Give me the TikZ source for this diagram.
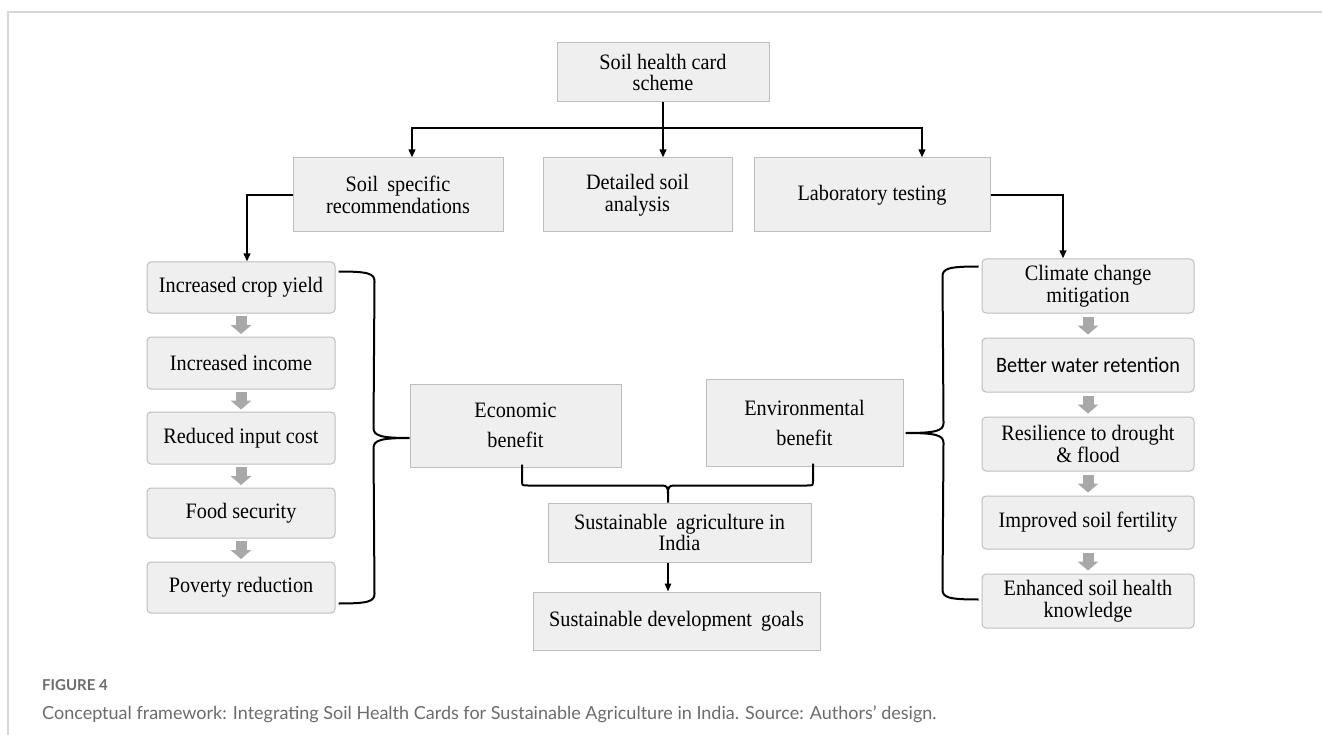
\documentclass[tikz,border=0pt]{standalone}
\usepackage{fontspec}
\setmainfont{Liberation Serif}[FakeStretch=0.92]
\newfontfamily\calibfont{Carlito}[FakeStretch=0.92]
\newfontfamily\capfont{Lato}
\usetikzlibrary{calc,arrows.meta}
\definecolor{boxfill}{RGB}{239,239,239}
\definecolor{boxborder}{RGB}{190,190,190}
\definecolor{agray}{RGB}{168,168,168}
\definecolor{capgray}{RGB}{108,108,108}
\definecolor{framegray}{RGB}{215,215,215}
\newcommand\bxfont{\fontsize{22}{21.5}\selectfont}
\newcommand\bxfontwide{\fontsize{22}{30}\selectfont}
\newcommand\mybox[7]{%
  \pgfmathsetmacro\mbw{#4-#2}\pgfmathsetmacro\mbh{#5-#3}%
  \pgfmathsetmacro\mbx{(#2+#4)/2}\pgfmathsetmacro\mby{(#3+#5)/2}%
  \node[#6, minimum width=\mbw pt, minimum height=\mbh pt] (#1) at (\mbx,\mby) {#7};}
\newcommand\garrow[2]{%
  \coordinate (gm) at ($(#1.south)!0.5!(#2.north)$);
  \fill[agray] ($(gm)+(-5.5,-9)$) rectangle ($(gm)+(5.5,0.5)$);
  \fill[agray] ($(gm)+(-10.5,0)$) -- ($(gm)+(10.5,0)$) -- ($(gm)+(0,9)$) -- cycle;}
\tikzset{
  sqbox/.style={draw=boxborder, fill=boxfill, line width=1pt, inner sep=0pt, align=center, font=\bxfont},
  rdbox/.style={sqbox, rounded corners=4pt},
  widebox/.style={sqbox, font=\bxfontwide},
  conn/.style={draw=black, line width=2pt},
  arr/.style={conn, -{Triangle[length=8pt,width=6.5pt]}},
}
\begin{document}
\begin{tikzpicture}[x=1pt,y=-1pt]
\useasboundingbox (0,0) rectangle (1322,735);
\fill[white] (0,0) rectangle (1322,735);
\draw[framegray, line width=2pt] (8,735) -- (8,12) -- (1322,12);

% top row
\mybox{top}{557}{43}{769}{102}{sqbox}{Soil health card\\scheme}
\mybox{ssr}{293}{158}{503}{232}{sqbox}{Soil\hspace{4pt} specific\\recommendations}
\mybox{det}{543}{158}{732}{232}{sqbox}{Detailed soil\\analysis}
\mybox{lab}{754}{158}{990}{232}{sqbox}{Laboratory testing}

% left column
\mybox{crop}{147}{262}{335}{313}{rdbox}{Increased crop yield}
\mybox{inc}{147}{337}{335}{389}{rdbox}{Increased income}
\mybox{red}{147}{412}{335}{464}{rdbox}{Reduced input cost}
\mybox{food}{147}{488}{335}{538}{rdbox}{Food security}
\mybox{pov}{147}{562}{335}{613}{rdbox}{Poverty reduction}

% right column
\mybox{clim}{982}{259}{1194}{313}{rdbox}{Climate change\\mitigation}
\mybox{water}{982}{338}{1194}{392}{rdbox}{\calibfont Better water retention}
\mybox{resil}{982}{417}{1194}{471}{rdbox}{Resilience to drought\\\& flood}
\mybox{fert}{982}{496}{1194}{549}{rdbox}{Improved soil fertility}
\mybox{know}{982}{574}{1194}{628}{rdbox}{Enhanced soil health\\knowledge}

% centre
\mybox{econ}{410}{384}{621}{467}{widebox}{Economic\\benefit}
\mybox{env}{706}{379}{903}{466}{widebox}{Environmental\\benefit}
\mybox{sust}{548}{503}{811}{562}{sqbox}{Sustainable\hspace{4pt} agriculture in\\India}
\mybox{sdg}{533}{592}{820}{650}{sqbox}{Sustainable development\hspace{4pt} goals}

% gray block arrows
\garrow{crop}{inc}
\garrow{inc}{red}
\garrow{red}{food}
\garrow{food}{pov}
\garrow{clim}{water}
\garrow{water}{resil}
\garrow{resil}{fert}
\garrow{fert}{know}

% top connectors
\coordinate (j) at ($(top.south)+(0,26)$);
\coordinate (a1) at ($(ssr.north)+(14,0)$);
\coordinate (a3) at ($(lab.north)+(50,0)$);
\draw[arr] (top.south) -- (top.south |- det.north);
\draw[arr] (j) -| (a1);
\draw[arr] (j) -| (a3);
\coordinate (a4) at ($(crop.north)+(6,0)$);
\coordinate (a5) at ($(clim.north)+(-25,0)$);
\draw[arr] (ssr.west) -| (a4);
\draw[arr] (lab.east) -| (a5);

% left brace
\coordinate (b1) at ($(crop.north east)+(3,10)$);
\coordinate (b2) at ($(pov.south east)+(3,-10)$);
\coordinate (bt) at ($(econ.west)+(0,12.5)$);
\draw[conn] (b1) .. controls ($(b1)+(30,0)$) and ($(b1)+(36,2)$) .. ($(b1)+(36,10)$)
  -- ($(bt)+(-36,-10)$) .. controls ($(bt)+(-36,-2)$) and ($(bt)+(-28,0)$) .. (bt)
  .. controls ($(bt)+(-28,0)$) and ($(bt)+(-36,2)$) .. ($(bt)+(-36,10)$)
  -- ($(b2)+(36,-10)$) .. controls ($(b2)+(36,-2)$) and ($(b2)+(30,0)$) .. (b2);

% right brace
\coordinate (c1) at ($(clim.north west)+(-3,8)$);
\coordinate (c2) at ($(know.south west)+(-3,-29)$);
\coordinate (ct) at ($(env.east)+(2,10.5)$);
\draw[conn] (c1) .. controls ($(c1)+(-30,0)$) and ($(c1)+(-36,2)$) .. ($(c1)+(-36,10)$)
  -- ($(ct)+(38,-10)$) .. controls ($(ct)+(38,-2)$) and ($(ct)+(30,0)$) .. (ct)
  .. controls ($(ct)+(30,0)$) and ($(ct)+(38,2)$) .. ($(ct)+(38,10)$)
  -- ($(c2)+(-36,-10)$) .. controls ($(c2)+(-36,-2)$) and ($(c2)+(-30,0)$) .. (c2);

% bottom brace
\coordinate (e1) at ($(econ.south)+(6.5,-3)$);
\coordinate (e2) at ($(env.south)+(8.5,-3)$);
\coordinate (s1) at ($(sust.north)+(-11.5,0)$);
\coordinate (hy) at ($(s1)+(0,-17)$);
\coordinate (h1) at (e1 |- hy);
\coordinate (h2) at (e2 |- hy);
\draw[conn] (e1) -- ($(h1)+(0,-5)$) .. controls (h1) .. ($(h1)+(6,0)$)
  -- ($(hy)+(-6,0)$) .. controls ($(hy)+(-1,0)$) and ($(hy)+(0,2)$) .. ($(hy)+(0,8)$) -- (s1);
\draw[conn] (e2) -- ($(h2)+(0,-5)$) .. controls (h2) .. ($(h2)+(-6,0)$)
  -- ($(hy)+(6,0)$) .. controls ($(hy)+(1,0)$) and ($(hy)+(0,2)$) .. ($(hy)+(0,8)$);
\coordinate (s2) at ($(sust.south)+(-11.5,0)$);
\draw[arr, line width=1.4pt] (s2) -- (s2 |- sdg.north);

% caption
\node[anchor=base west, inner sep=0pt, text=capgray, font=\capfont\bfseries\fontsize{15}{18}\selectfont] (fig) at (42,690) {FIGURE 4};
\node[anchor=base west, inner sep=0pt, text=capgray, font=\capfont\fontsize{18}{22}\selectfont] (cap) at (42,719) {Conceptual framework: Integrating Soil Health Cards for Sustainable Agriculture in India. Source: Authors’ design.};
\end{tikzpicture}
\end{document}
